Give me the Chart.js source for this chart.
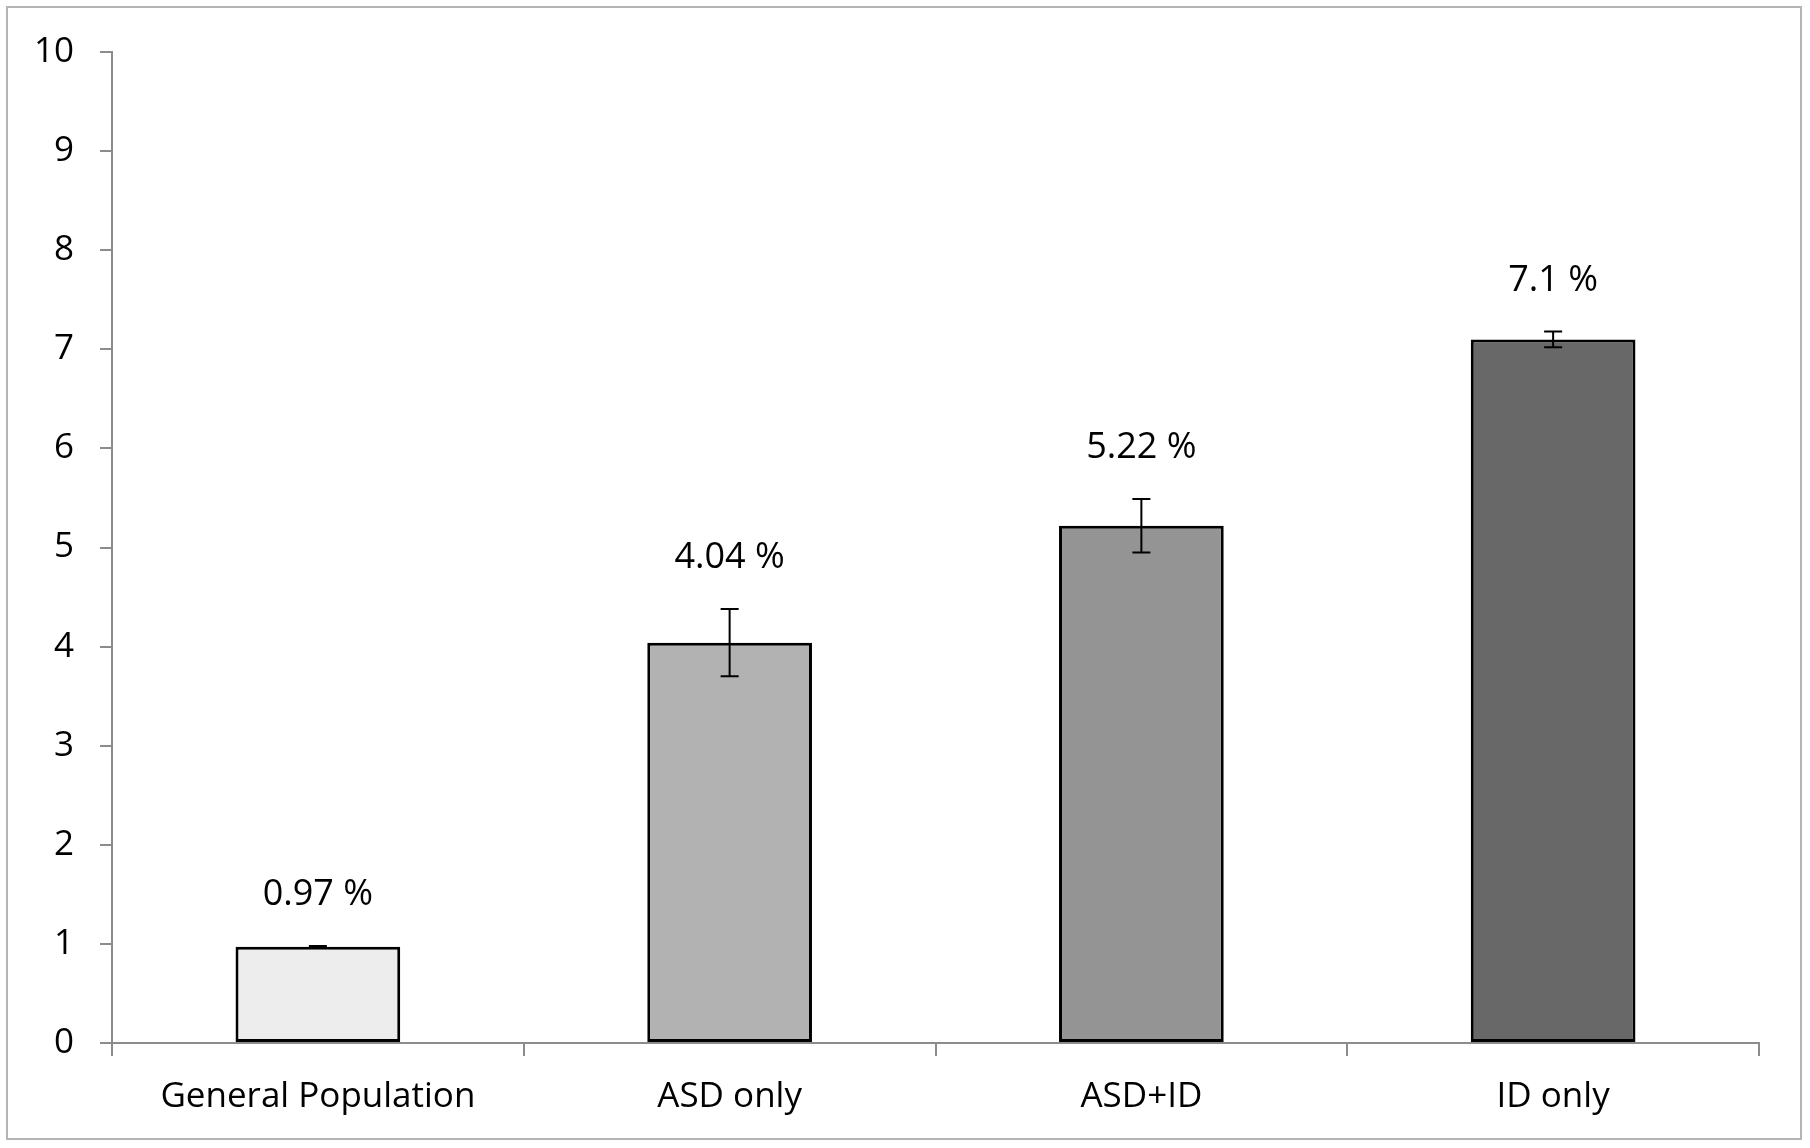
<!DOCTYPE html>
<html>
<head>
<meta charset="utf-8">
<script src="https://cdn.jsdelivr.net/npm/chart.js@4/dist/chart.umd.min.js"></script>
<style>
  html, body { margin: 0; padding: 0; background: #ffffff; }
  #wrap { position: relative; width: 1810px; height: 1148px; }
  #frame { position: absolute; left: 6px; top: 6px; width: 1796px; height: 1134px; border: 2px solid #b4b4b4; box-sizing: border-box; pointer-events: none; }
  canvas { position: absolute; left: 0; top: 0; }
</style>
</head>
<body>
<div id="wrap">
  <canvas id="c" width="1810" height="1148"></canvas>
  <div id="frame"></div>
</div>
<script>
const categories = ["General Population", "ASD only", "ASD+ID", "ID only"];
const values = [0.97, 4.04, 5.22, 7.1];
const errors = [0.01, 0.34, 0.27, 0.08];
const valueLabels = ["0.97 %", "4.04 %", "5.22 %", "7.1 %"];
const barColors = ["#ededed", "#b2b2b2", "#949494", "#686868"];
const yTicks = [0, 1, 2, 3, 4, 5, 6, 7, 8, 9, 10];

const FONT = "'Open Sans', 'Noto Sans', sans-serif";

const overlay = {
  id: 'overlay',
  afterDatasetsDraw(chart) {
    const ctx = chart.ctx;
    const meta = chart.getDatasetMeta(0);
    const y = chart.scales.y;
    ctx.save();
    meta.data.forEach((bar, i) => {
      const x = bar.x;
      const top = y.getPixelForValue(values[i] + errors[i]);
      const bot = y.getPixelForValue(values[i] - errors[i]);
      ctx.strokeStyle = '#000000';
      ctx.lineWidth = 2;
      ctx.beginPath();
      ctx.moveTo(x, top); ctx.lineTo(x, bot);
      ctx.moveTo(x - 9, top); ctx.lineTo(x + 9, top);
      ctx.moveTo(x - 9, bot); ctx.lineTo(x + 9, bot);
      ctx.stroke();
      ctx.fillStyle = '#000000';
      ctx.font = '36px ' + FONT;
      ctx.textAlign = 'center';
      ctx.textBaseline = 'middle';
      ctx.fillText(valueLabels[i], x, top - 51);
    });
    ctx.restore();
  }
};

new Chart(document.getElementById('c'), {
  type: 'bar',
  data: {
    labels: categories,
    datasets: [{
      data: values,
      backgroundColor: barColors,
      borderColor: '#000000',
      borderWidth: 3,
      borderSkipped: false,
      categoryPercentage: 1.0,
      barPercentage: 0.4
    }]
  },
  options: {
    responsive: false,
    animation: false,
    devicePixelRatio: 1,
    layout: { padding: { top: 52, right: 51, left: 0, bottom: 0 } },
    plugins: { legend: { display: false }, tooltip: { enabled: false } },
    scales: {
      x: {
        offset: true,
        grid: { display: true, drawOnChartArea: false, drawTicks: true, tickLength: 13, color: '#8c8c8c', lineWidth: 2, offset: true },
        border: { display: true, color: '#8c8c8c', width: 2 },
        ticks: { color: '#000000', font: { family: FONT, size: 35 }, padding: 20, maxRotation: 0 },
        afterFit(scale) { scale.height = 105; }
      },
      y: {
        min: 0, max: 10,
        afterBuildTicks(scale) { scale.ticks = yTicks.map(v => ({ value: v })); },
        grid: { display: true, drawOnChartArea: false, drawTicks: true, tickLength: 12, color: '#8c8c8c', lineWidth: 2 },
        border: { display: true, color: '#8c8c8c', width: 2 },
        ticks: { color: '#000000', font: { family: FONT, size: 35 }, padding: 26 },
        afterFit(scale) { scale.width = 112; }
      }
    }
  },
  plugins: [overlay]
});
</script>
</body>
</html>
